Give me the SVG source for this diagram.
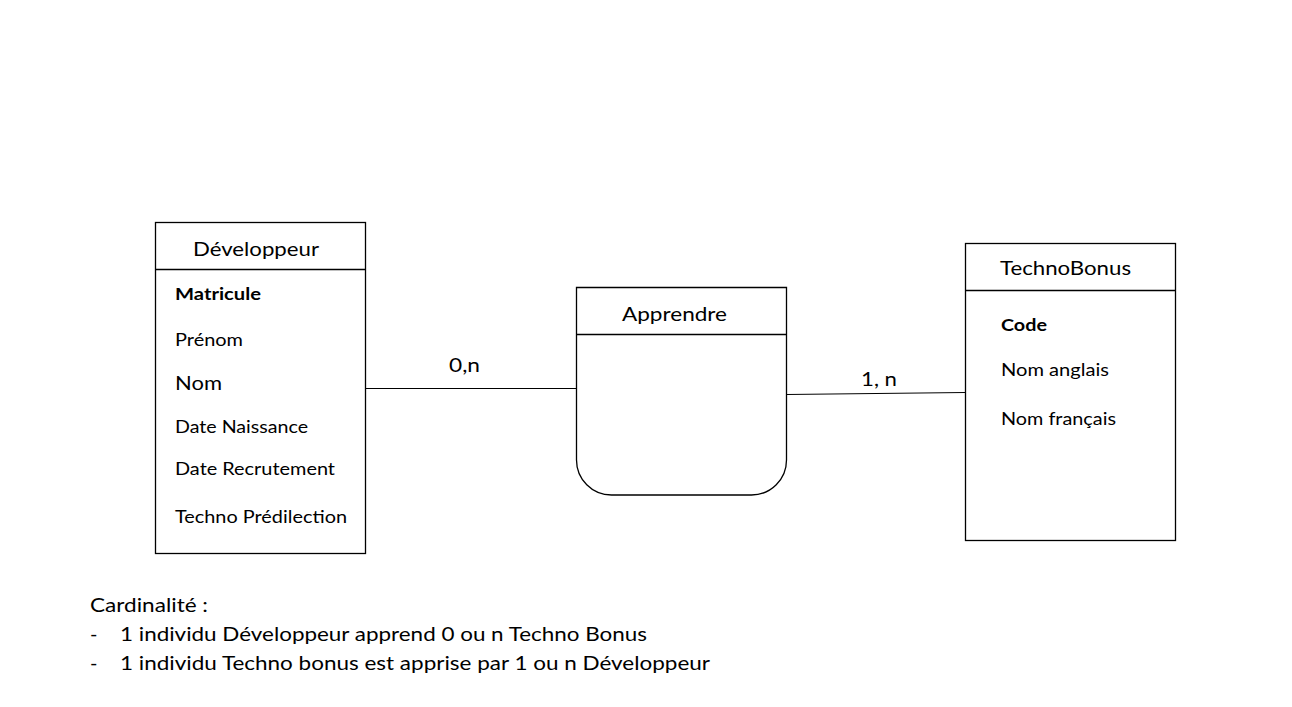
<svg xmlns="http://www.w3.org/2000/svg" width="1292" height="707" viewBox="0 0 1292 707">
<style>
.box{fill:#fff;stroke:#000;stroke-width:1.3}
.sep{stroke:#000;stroke-width:1.3}
.t{font-family:Lato,"Open Sans","Liberation Sans",sans-serif;font-size:20px;fill:#000}
.a{font-size:17.5px}
.b{font-weight:bold}
.conn{stroke:#000;stroke-width:1.2;fill:none}
</style>
<rect width="1292" height="707" fill="#fff"/>
<g id="developpeur">
<rect class="box" x="155.5" y="222.5" width="210" height="331"/>
<line class="sep" x1="155.5" y1="269.5" x2="365.5" y2="269.5"/>
<text class="t" x="193" y="256" textLength="126" lengthAdjust="spacingAndGlyphs">Développeur</text>
<text class="t a b" x="175" y="300" textLength="86" lengthAdjust="spacingAndGlyphs">Matricule</text>
<text class="t a" x="175" y="346" textLength="68" lengthAdjust="spacingAndGlyphs">Prénom</text>
<text class="t" x="175" y="390" textLength="47" lengthAdjust="spacingAndGlyphs">Nom</text>
<text class="t a" x="175" y="433" textLength="133" lengthAdjust="spacingAndGlyphs">Date Naissance</text>
<text class="t a" x="175" y="475" textLength="160" lengthAdjust="spacingAndGlyphs">Date Recrutement</text>
<text class="t a" x="175" y="523" textLength="172" lengthAdjust="spacingAndGlyphs">Techno Prédilection</text>
</g>
<g id="apprendre">
<path class="box" d="M576.5,287.5 H786.5 V460 A35,35 0 0 1 751.5,495 H611.5 A35,35 0 0 1 576.5,460 Z"/>
<line class="sep" x1="576.5" y1="334.5" x2="786.5" y2="334.5"/>
<text class="t" x="622" y="321" textLength="105" lengthAdjust="spacingAndGlyphs">Apprendre</text>
</g>
<g id="technobonus">
<rect class="box" x="965.5" y="243.5" width="210" height="297"/>
<line class="sep" x1="965.5" y1="290.5" x2="1175.5" y2="290.5"/>
<text class="t" x="1000" y="275" textLength="131" lengthAdjust="spacingAndGlyphs">TechnoBonus</text>
<text class="t a b" x="1001" y="331" textLength="46" lengthAdjust="spacingAndGlyphs">Code</text>
<text class="t a" x="1001" y="376" textLength="108" lengthAdjust="spacingAndGlyphs">Nom anglais</text>
<text class="t a" x="1001" y="425" textLength="115" lengthAdjust="spacingAndGlyphs">Nom français</text>
</g>
<g id="connectors">
<line class="conn" x1="365.5" y1="388.5" x2="576.5" y2="388.5"/>
<line class="conn" x1="786.5" y1="394.5" x2="965.5" y2="392.5"/>
<text class="t" x="449" y="372" textLength="31" lengthAdjust="spacingAndGlyphs">0,n</text>
<text class="t" x="861" y="386" textLength="36" lengthAdjust="spacingAndGlyphs">1, n</text>
</g>
<g id="legend">
<text class="t" x="90" y="612" textLength="118" lengthAdjust="spacingAndGlyphs">Cardinalité :</text>
<text class="t" x="90" y="641">-</text>
<text class="t" x="120" y="641" textLength="527" lengthAdjust="spacingAndGlyphs">1 individu Développeur apprend 0 ou n Techno Bonus</text>
<text class="t" x="90" y="670">-</text>
<text class="t" x="120" y="670" textLength="590" lengthAdjust="spacingAndGlyphs">1 individu Techno bonus est apprise par 1 ou n Développeur</text>
</g>
</svg>
